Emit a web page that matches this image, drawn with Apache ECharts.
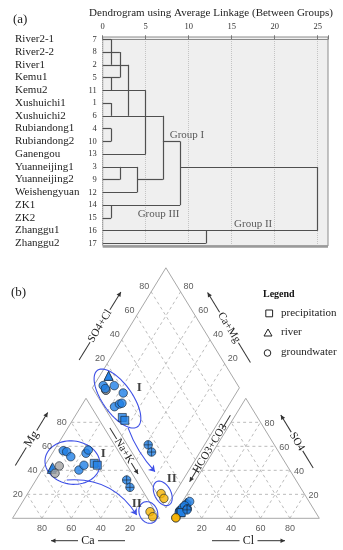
<!DOCTYPE html>
<html><head><meta charset="utf-8">
<script src="https://cdn.jsdelivr.net/npm/echarts@6/dist/echarts.min.js"></script>
<style>html,body{margin:0;padding:0;background:#fff}#c{width:343px;height:550px}</style>
</head><body><div id="c"></div>
<script>
// ================= (a) Dendrogram data =================
const sampleNames = ['River2-1','River2-2','River1','Kemu1','Kemu2','Xushuichi1','Xushuichi2','Rubiandong1','Rubiandong2','Ganengou','Yuanneijing1','Yuanneijing2','Weishengyuan','ZK1','ZK2','Zhanggu1','Zhanggu2'];
const caseNumbers = ['7','8','2','5','11','1','6','4','10','13','3','9','12','14','15','16','17'];
const distanceTicks = [0,5,10,15,20,25];
// rescaled distance reached by each row's leaf line
const leafEnd = [1,2,3,2,5,1,7,1,1,5,4,2,4,9,1,25,12];
// continuation lines of merged clusters: [row, fromDist, toDist]
const branchLines = [[11,4,7],[8,7,9],[10,9,25]];
// vertical joins: [distance, rowA, rowB]
const joins = [[1,0,2],[2,1,3],[1,3,4],[3,2,6],[1,5,6],[5,4,9],[1,7,8],[7,6,11],[2,10,11],[4,10,12],[9,8,13],[1,13,14],[25,10,15],[12,15,16]];
const groupNames = ['Group I','Group III','Group II'];
const groupDist  = [9.8, 6.5, 17.5];
const groupRow   = [7.5, 13.7, 14.5];

// ================= (b) Piper data (meq %) =================
const pCa   = [52.8,51.5,46.4,52.3,37.3,35.4,34.7,22.9,20.0,34.7,29.3,21.5,20.2, 6.4, 7.2, 3.7, 4.0];
const pMg   = [41.1,42.5,43.6,37.5,56.3,55.5,51.3,54.2,56.9,40.2,44.2,45.8,44.2,31.9,25.8, 5.5, 1.3];
const pSO4  = [13.0,12.5, 6.0, 6.2, 6.0, 6.5,12.0, 5.0,14.0, 9.0,10.5, 4.5, 4.8, 8.0, 7.0, 0.5, 0.4];
const pCl   = [ 3.0, 3.5, 2.2, 2.0, 2.3, 2.0, 3.8, 2.2, 4.8, 2.6, 3.2, 3.5, 3.7, 6.2, 6.5, 2.2, 2.2];
const pShape= ['triangle','triangle','circle','circle','circle','circle','circle','circle','circle','circle','circle','square','square','cross','cross','circle','circle'];
const pGroup= ['blue','blue','gray','gray','blue','blue','blue','blue','blue','blue','blue','blue','blue','blue','blue','yellow','yellow'];
const piperTicks = [20,40,60,80];
const legendNames = ['precipitation','river','groundwater'];

// ================= helpers =================
const SERIF = '"Liberation Serif","Times New Roman",serif';
const SANS = '"Liberation Sans",Arial,sans-serif';
const H = 86.6025, G = 8.7;
function cat(ca, mg){ const na = 100-ca-mg; return [na + mg/2, mg*H/100]; }
function an(so4, cl){ return [100+G+cl+so4/2, so4*H/100]; }
function dia(cm, sc){ return [100+G/2 + 0.5*(sc-cm), G*H/100 + H*(sc+cm)/100]; }
const PX_MAX = 200+G, PY_MAX = 2*H + G*H/100;

const DX_MAX = 26.2, ROW_MIN = -0.18, ROW_MAX = 16.2;

// dendrogram segments
const dendroSegs = [];
leafEnd.forEach((e,i)=>dendroSegs.push({coords:[[0,i],[e,i]]}));
branchLines.forEach(([r,a,b])=>dendroSegs.push({coords:[[a,r],[b,r]]}));
joins.forEach(([d,a,b])=>dendroSegs.push({coords:[[d,a],[d,b]]}));

// piper frame and grid lines
const dashed = [];
piperTicks.forEach(t=>{
  dashed.push({coords:[cat(100-t,t), cat(0,t)]});
  dashed.push({coords:[cat(t,0), cat(t,100-t)]});
  dashed.push({coords:[cat(100-t,0), cat(0,100-t)]});
  dashed.push({coords:[an(t,0), an(t,100-t)]});
  dashed.push({coords:[an(0,t), an(100-t,t)]});
  dashed.push({coords:[an(0,100-t), an(100-t,0)]});
  dashed.push({coords:[dia(t,0), dia(t,100)]});
  dashed.push({coords:[dia(0,t), dia(100,t)]});
});
const solid = [
  {coords:[cat(100,0), cat(0,0), cat(0,100), cat(100,0)]},
  {coords:[an(0,0), an(0,100), an(100,0), an(0,0)]},
  {coords:[dia(0,0), dia(100,0), dia(100,100), dia(0,100), dia(0,0)]}
];

// tick labels
const tickItems = [];
piperTicks.forEach(t=>{
  const n = String(t);
  tickItems.push({value:cat(100-t,t), name:n, label:{offset:[-9.5,0.5]}});
  tickItems.push({value:cat(t,0), name:n, label:{offset:[0,10]}});
  tickItems.push({value:an(0,t), name:n, label:{offset:[0,10]}});
  tickItems.push({value:an(t,100-t), name:n, label:{offset:[9,1]}});
  tickItems.push({value:dia(100,t), name:n, label:{offset:[-7,-5]}});
  tickItems.push({value:dia(t,100), name:n, label:{offset:[8,-5]}});
});

// sample points
const fillOf = {blue:'#1f80e6', gray:'#a3a3a3', yellow:'#f5b301'};
const crossPath = 'path://M0,10A10,10 0 1 1 20,10A10,10 0 1 1 0,10Z M10,0V20 M0,10H20';
const symOf = {circle:'circle', square:'rect', triangle:'triangle', cross:crossPath};
const sizeOf = {circle:8.5, square:8, triangle:9, cross:8.5};
const pointItems = [];
pCa.forEach((ca,i)=>{
  const mg = pMg[i], so4 = pSO4[i], cl = pCl[i];
  const style = {color:fillOf[pGroup[i]], borderColor:'#1b2533', borderWidth:0.8};
  const base = {symbol:symOf[pShape[i]], symbolSize:sizeOf[pShape[i]], itemStyle:style};
  pointItems.push(Object.assign({value:cat(ca,mg)}, base));
  pointItems.push(Object.assign({value:an(so4,cl)}, base));
  pointItems.push(Object.assign({value:dia(ca+mg, so4+cl)}, base));
});

// group ellipses (data units): [cu, cv, a, b, angleDeg]
const ellipses = [[71.4,86.4,24.5,10.3,-57],[40.8,40.2,18.8,15.6,-10],[102.2,18.0,9.4,5.6,-65],[92.4,4.2,8.0,6.2,-70]];
function ellipsePts(e){
  const [cx,cy,a,b,ang] = e, r = ang*Math.PI/180, pts = [];
  for(let k=0;k<=72;k++){ const t = k/72*2*Math.PI;
    pts.push([cx + a*Math.cos(t)*Math.cos(r) - b*Math.sin(t)*Math.sin(r), cy + a*Math.cos(t)*Math.sin(r) + b*Math.sin(t)*Math.cos(r)]); }
  return {coords:pts};
}
const trendArrows = [{coords:[[36.9,27.6],[84.5,2.4]], lineStyle:{curveness:0.3}}, {coords:[[78.6,65.2],[96.9,33.6]], lineStyle:{curveness:-0.1}}];
const romanLabels = [{value:[61.8,46.9], name:'I'},{value:[86.3,94.5], name:'I'},{value:[108.3,28.4], name:'II'},{value:[84.5,10.3], name:'II'}];

function axisTitle(cx, cy, deg, text, half, gap, arrowAt, fs){
  const tip = arrowAt==='right' ? half : -half, dir = arrowAt==='right' ? 1 : -1;
  return {type:'group', x:cx, y:cy, rotation:deg*Math.PI/180, silent:true, children:[
    {type:'line', shape:{x1:-half,y1:0,x2:-gap,y2:0}, style:{stroke:'#333', lineWidth:1}},
    {type:'line', shape:{x1:gap,y1:0,x2:half,y2:0}, style:{stroke:'#333', lineWidth:1}},
    {type:'polygon', shape:{points:[[tip,0],[tip-dir*4.5,-2.3],[tip-dir*4.5,2.3]]}, style:{fill:'#333'}},
    {type:'text', x:0, y:0, style:{text:text, align:'center', verticalAlign:'middle', textAlign:'center', textVerticalAlign:'middle', font:(fs||12)+'px '+SERIF, fill:'#222'}}
  ]};
}
const A = 58.5;
const graphics = [
  {type:'text', x:13, y:20, style:{text:'(a)', font:'13px '+SERIF, fill:'#222', verticalAlign:'middle', textVerticalAlign:'middle'}},
  {type:'text', x:211, y:13, style:{text:'Dendrogram using Average Linkage (Between Groups)', font:'11px '+SERIF, fill:'#222', align:'center', verticalAlign:'middle', textAlign:'center', textVerticalAlign:'middle'}},
  {type:'text', x:11, y:293, style:{text:'(b)', font:'13px '+SERIF, fill:'#222', verticalAlign:'middle', textVerticalAlign:'middle'}},
  axisTitle(88, 540.7, 0, 'Ca', 37, 10, 'left', 12),
  axisTitle(248.5, 540.7, 0, 'Cl', 36.5, 9, 'right', 12),
  axisTitle(31.5, 439, A, 'Mg', 31, 10, 'right', 12),
  axisTitle(100, 326, A, 'SO4+Cl', 40, 19, 'right', 11),
  axisTitle(229, 327.5, -A, 'Ca+Mg', 41, 18, 'left', 11),
  axisTitle(124, 451, -A, 'Na+K', 27, 14, 'right', 11),
  axisTitle(210, 448.5, A, 'HCO3+CO3', 39, 23, 'left', 11),
  axisTitle(297, 441.5, -A, 'SO4', 31, 11, 'left', 11),
  {type:'text', x:263, y:294, style:{text:'Legend', font:'bold 10px '+SERIF, fill:'#111', verticalAlign:'middle', textVerticalAlign:'middle'}},
  {type:'rect', shape:{x:265.8,y:310,width:6.8,height:6.8}, style:{fill:'#fff', stroke:'#222', lineWidth:1}},
  {type:'polygon', shape:{points:[[268,329],[264,336],[272,336]]}, style:{fill:'#fff', stroke:'#222', lineWidth:1}},
  {type:'circle', shape:{cx:267.5, cy:353, r:3.3}, style:{fill:'#fff', stroke:'#222', lineWidth:1}},
  {type:'text', x:281, y:313.3, style:{text:legendNames[0], font:'11px '+SERIF, fill:'#222', verticalAlign:'middle', textVerticalAlign:'middle'}},
  {type:'text', x:281, y:332.5, style:{text:legendNames[1], font:'11px '+SERIF, fill:'#222', verticalAlign:'middle', textVerticalAlign:'middle'}},
  {type:'text', x:281, y:352.5, style:{text:legendNames[2], font:'11px '+SERIF, fill:'#222', verticalAlign:'middle', textVerticalAlign:'middle'}}
];

const chart = echarts.init(document.getElementById('c'));
chart.setOption({
  animation:false,
  backgroundColor:'#fff',
  grid:[
    {left:102.7, top:37, width:225.3, height:209, show:true, backgroundColor:'#efefef', borderColor:'#8a8a8a', borderWidth:1},
    {left:12.5, top:267.8, width:306.8, height:250.5},
    {left:102.7, top:32.9, width:225.3, height:216.75}
  ],
  xAxis:[
    {gridIndex:0, type:'value', position:'top', min:0, max:DX_MAX, interval:5,
      axisLine:{show:true, lineStyle:{color:'#8a8a8a'}},
      axisTick:{show:true, length:4, lineStyle:{color:'#777'}},
      axisLabel:{margin:6, fontSize:8.5, fontFamily:SERIF, color:'#333', formatter:v=>distanceTicks.indexOf(v)>=0?String(v):''},
      splitLine:{show:true, lineStyle:{type:'dotted', color:'#c4c4c4'}}},
    {gridIndex:1, type:'value', min:0, max:PX_MAX, show:false},
    {gridIndex:2, type:'value', min:0, max:1, show:false}
  ],
  yAxis:[
    {gridIndex:0, type:'value', inverse:true, min:ROW_MIN, max:ROW_MAX, show:false},
    {gridIndex:1, type:'value', min:0, max:PY_MAX, show:false},
    {gridIndex:2, type:'category', position:'left', inverse:true, data:caseNumbers,
      axisLine:{show:false}, axisTick:{show:false}, splitLine:{show:false},
      axisLabel:{interval:0, margin:6, fontSize:8.5, fontFamily:SERIF, color:'#333'}},
    {gridIndex:2, type:'category', position:'left', offset:0, inverse:true, data:sampleNames,
      axisLine:{show:false}, axisTick:{show:false}, splitLine:{show:false},
      axisLabel:{interval:0, margin:87.7, align:'left', fontSize:11, fontFamily:SERIF, color:'#222'}}
  ],
  series:[
    {type:'lines', coordinateSystem:'cartesian2d', xAxisIndex:0, yAxisIndex:0, silent:true, clip:false,
      data:[{coords:[[0,ROW_MAX],[DX_MAX,ROW_MAX]]}], lineStyle:{color:'#9a9a9a', width:2.5, opacity:1}},
    {type:'lines', coordinateSystem:'cartesian2d', xAxisIndex:0, yAxisIndex:0, silent:true, clip:false,
      data:dendroSegs, lineStyle:{color:'#505050', width:1.2, opacity:1}},
    {type:'scatter', xAxisIndex:0, yAxisIndex:0, symbolSize:0, silent:true, clip:false,
      data:groupNames.map((n,i)=>({name:n, value:[groupDist[i], groupRow[i]]})),
      label:{show:true, position:'inside', formatter:'{b}', fontSize:11, fontFamily:SERIF, color:'#333'}},
    {type:'lines', coordinateSystem:'cartesian2d', xAxisIndex:1, yAxisIndex:1, polyline:true, silent:true, clip:false,
      data:dashed, lineStyle:{color:'#b4b4b4', width:0.9, type:[3,3], opacity:1}},
    {type:'lines', coordinateSystem:'cartesian2d', xAxisIndex:1, yAxisIndex:1, polyline:true, silent:true, clip:false,
      data:solid, lineStyle:{color:'#a8a8a8', width:1, opacity:1}},
    {type:'scatter', xAxisIndex:1, yAxisIndex:1, symbolSize:0, silent:true, clip:false, data:tickItems,
      label:{show:true, position:'inside', formatter:'{b}', fontSize:9, fontFamily:SANS, color:'#333'}},
    {type:'lines', coordinateSystem:'cartesian2d', xAxisIndex:1, yAxisIndex:1, polyline:true, silent:true, clip:false,
      data:ellipses.map(ellipsePts), lineStyle:{color:'#3d4fe6', width:1.1, opacity:1}},
    {type:'lines', coordinateSystem:'cartesian2d', xAxisIndex:1, yAxisIndex:1, silent:true, clip:false,
      data:trendArrows, symbol:['none','arrow'], symbolSize:6, lineStyle:{color:'#3d4fe6', width:1.1, opacity:1}},
    {type:'scatter', xAxisIndex:1, yAxisIndex:1, silent:true, clip:false, data:pointItems, z:5},
    {type:'scatter', xAxisIndex:1, yAxisIndex:1, symbolSize:0, silent:true, clip:false, data:romanLabels,
      label:{show:true, position:'inside', formatter:'{b}', fontSize:13, fontWeight:'bold', fontFamily:SERIF, color:'#111'}}
  ],
  graphic:graphics
});
</script></body></html>
